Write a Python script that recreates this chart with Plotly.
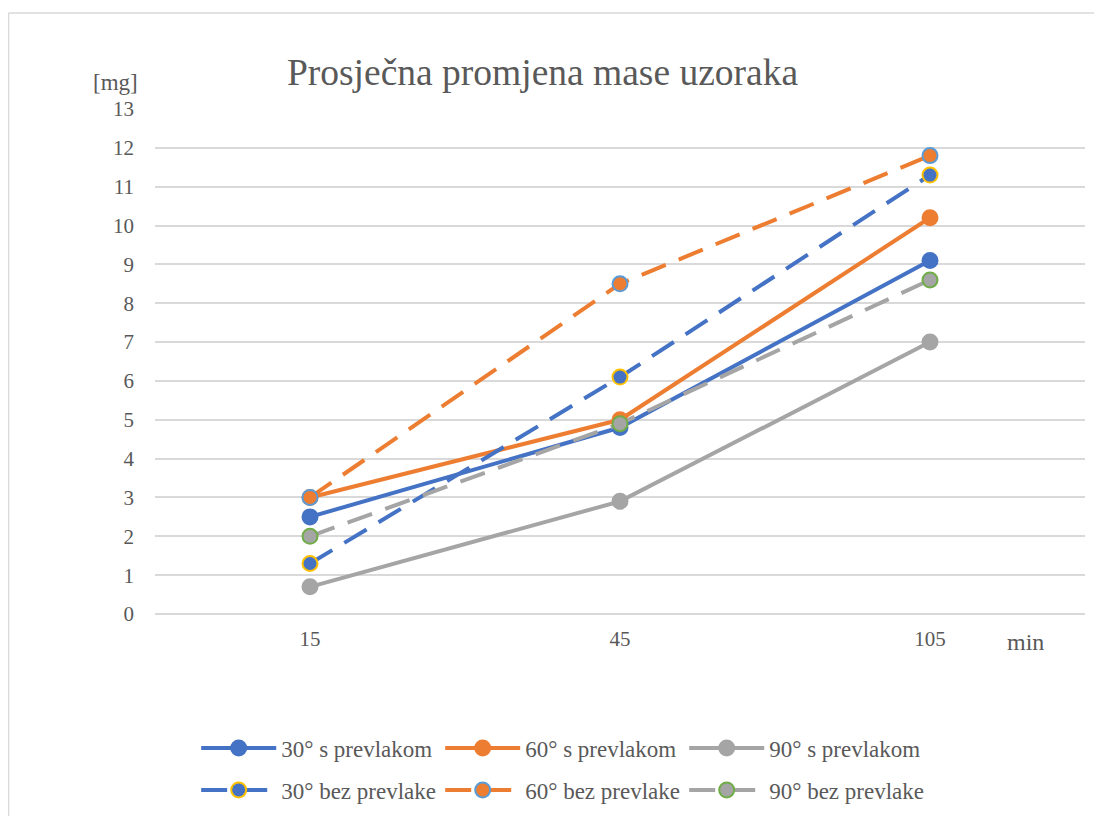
import plotly.graph_objects as go

categories = ["15", "45", "105"]
s30_s = [2.5, 4.8, 9.1]
s60_s = [3.0, 5.0, 10.2]
s90_s = [0.7, 2.9, 7.0]
s30_b = [1.3, 6.1, 11.3]
s60_b = [3.0, 8.5, 11.8]
s90_b = [2.0, 4.9, 8.6]
y_ticks = list(range(0, 14))

BLUE = "#4472C4"
ORANGE = "#ED7D31"
GRAY = "#A5A5A5"
FONT = "Liberation Serif"
TXT = "#595959"

series = [
    ("30° s prevlakom", s30_s, BLUE, "solid", BLUE, "legend"),
    ("60° s prevlakom", s60_s, ORANGE, "solid", ORANGE, "legend"),
    ("90° s prevlakom", s90_s, GRAY, "solid", GRAY, "legend"),
    ("30° bez prevlake", s30_b, BLUE, "dash", "#FFC000", "legend2"),
    ("60° bez prevlake", s60_b, ORANGE, "dash", "#5B9BD5", "legend2"),
    ("90° bez prevlake", s90_b, GRAY, "dash", "#70AD47", "legend2"),
]

fig = go.Figure()
for name, vals, col, dash, edge, leg in series:
    fig.add_trace(go.Scatter(
        x=categories, y=vals, name=name, mode="lines+markers", legend=leg,
        line=dict(color=col, width=4, dash="26px,14px" if dash == "dash" else "solid"),
        marker=dict(size=15, color=col, line=dict(color=edge, width=2)),
    ))

leg_common = dict(orientation="h", xanchor="left", yanchor="middle", yref="container",
                  font=dict(family=FONT, size=23, color=TXT),
                  entrywidth=154, itemwidth=75, bgcolor="rgba(0,0,0,0)")

fig.update_layout(
    width=1094, height=808,
    margin=dict(l=147, r=17, t=101, b=202, autoexpand=False),
    paper_bgcolor="white", plot_bgcolor="white",
    font=dict(family=FONT, size=21, color=TXT),
    title=dict(text="Prosječna promjena mase uzoraka", xref="paper", x=0.4167, xanchor="center",
               y=0.921, yanchor="middle", font=dict(family=FONT, size=37.5, color=TXT)),
    showlegend=True,
    legend=dict(x=0.0443, y=0.0842, **leg_common),
    legend2=dict(x=0.0443, y=0.0322, **leg_common),
    xaxis=dict(type="category", range=[-0.5, 2.5], showgrid=False, showline=False,
               ticks="", tickfont=dict(family=FONT, size=21, color=TXT), zeroline=False,
               ticklabelstandoff=10),
    yaxis=dict(range=[0, 13], tickvals=y_ticks, showgrid=True, gridcolor="#D9D9D9",
               gridwidth=1.5, zeroline=True, zerolinecolor="#D9D9D9", zerolinewidth=1.5,
               ticks="", tickfont=dict(family=FONT, size=21, color=TXT), ticklabelstandoff=20),
    shapes=[
        dict(type="line", xref="paper", yref="paper", x0=-0.1575, x1=1.1, y0=1.190, y1=1.190,
             line=dict(color="#D9D9D9", width=1.5)),
        dict(type="line", xref="paper", yref="paper", x0=-0.1575, x1=-0.1575, y0=1.190, y1=-0.5,
             line=dict(color="#D9D9D9", width=1.5)),
    ],
    annotations=[
        dict(text="[mg]", xref="paper", yref="paper", x=-0.043, y=1.0515, xanchor="center",
             yanchor="middle", showarrow=False, font=dict(family=FONT, size=23, color=TXT)),
        dict(text="min", xref="paper", yref="paper", x=0.9355, y=-0.0554, xanchor="center",
             yanchor="middle", showarrow=False, font=dict(family=FONT, size=24, color=TXT)),
    ],
)

fig.write_html("out.html")
